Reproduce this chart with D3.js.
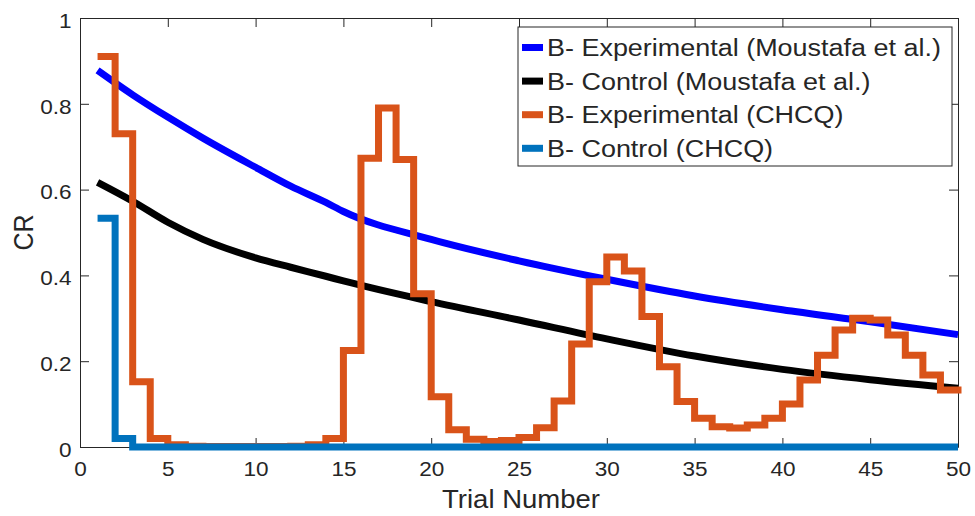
<!DOCTYPE html>
<html>
<head>
<meta charset="utf-8">
<script src="https://cdn.jsdelivr.net/npm/d3@7"></script>
<style>
  body { margin: 0; background: #fff; }
  text { font-family: "Liberation Sans", Arial, sans-serif; fill: #262626; }
</style>
</head>
<body>
<script>
// DATA
var trials = d3.range(1, 51);

// smooth curves read at a few trials
var moustafaX = [1, 3, 5, 7, 10, 12, 14, 15, 20, 25, 30, 35, 40, 45, 50];
var expMoustafa = [0.878, 0.821, 0.769, 0.720, 0.652, 0.608, 0.570, 0.549, 0.484, 0.434, 0.391, 0.352, 0.320, 0.292, 0.262];
var ctrlMoustafa = [0.617, 0.573, 0.524, 0.484, 0.441, 0.419, 0.398, 0.387, 0.339, 0.296, 0.252, 0.212, 0.181, 0.157, 0.137];

// stairs, one value per trial
var expCHCQ = [0.91, 0.73, 0.152, 0.02, 0.005, 0.002, 0.001, 0.001, 0.001, 0.001,
  0.001, 0.002, 0.005, 0.02, 0.225, 0.673, 0.79, 0.67, 0.357, 0.117,
  0.04, 0.018, 0.013, 0.015, 0.022, 0.045, 0.107, 0.24, 0.385, 0.443,
  0.41, 0.304, 0.187, 0.106, 0.067, 0.047, 0.044, 0.051, 0.067, 0.10,
  0.156, 0.214, 0.273, 0.30, 0.296, 0.261, 0.214, 0.168, 0.133, 0.125];
var ctrlCHCQ = [0.533, 0.02, 0, 0, 0, 0, 0, 0, 0, 0,
  0, 0, 0, 0, 0, 0, 0, 0, 0, 0,
  0, 0, 0, 0, 0, 0, 0, 0, 0, 0,
  0, 0, 0, 0, 0, 0, 0, 0, 0, 0,
  0, 0, 0, 0, 0, 0, 0, 0, 0, 0];

var legendLabels = ["B- Experimental (Moustafa et al.)", "B- Control (Moustafa et al.)",
  "B- Experimental (CHCQ)", "B- Control (CHCQ)"];
var colors = ["#0000ff", "#000000", "#d95319", "#0072bd"];
var xTicks = [0, 5, 10, 15, 20, 25, 30, 35, 40, 45, 50];
var yTicks = [0, 0.2, 0.4, 0.6, 0.8, 1];

var W = 975, H = 516;
var margin = {top: 18, right: 17, bottom: 69, left: 80};
var width = W - margin.left - margin.right;
var height = H - margin.top - margin.bottom;
var sx = 1.1; // the original's text is a bit wider than Liberation Sans

var svg = d3.select("body").append("svg")
  .attr("width", W)
  .attr("height", H);

var g = svg.append("g")
  .attr("transform", "translate(" + margin.left + "," + margin.top + ")");

var x = d3.scaleLinear().domain([0, 50]).range([0, width]);
var y = d3.scaleLinear().domain([0, 1]).range([height, 0]);

// axes, ticks pointing inward like matlab, mirrored on top/right
var tl = 9;
function styleAxis(sel) {
  sel.selectAll("path").attr("stroke", "#262626");
  sel.selectAll("line").attr("stroke", "#262626");
  sel.selectAll("text").attr("font-size", 20.5).attr("fill", "#262626")
    .attr("font-family", "Liberation Sans, Arial, sans-serif");
}

var xAxisG = g.append("g")
  .attr("transform", "translate(0," + height + ")")
  .call(d3.axisBottom(x).tickValues(xTicks).tickFormat(d3.format("d"))
    .tickSizeInner(-tl).tickSizeOuter(0).tickPadding(14))
  .call(styleAxis);
xAxisG.selectAll("text").attr("transform", "scale(" + sx + ",1)");

var yAxisG = g.append("g")
  .call(d3.axisLeft(y).tickValues(yTicks).tickFormat(function(d) { return d === 0 || d === 1 ? d : d.toFixed(1); })
    .tickSizeInner(-tl).tickSizeOuter(0))
  .call(styleAxis);
yAxisG.selectAll("text")
  .attr("x", -8.5 / sx)
  .attr("dy", "0.45em")
  .attr("transform", "scale(" + sx + ",1)");

g.append("g")
  .call(d3.axisTop(x).tickValues(xTicks).tickFormat("").tickSizeInner(-tl).tickSizeOuter(0))
  .call(styleAxis);

g.append("g")
  .attr("transform", "translate(" + width + ",0)")
  .call(d3.axisRight(y).tickValues(yTicks).tickFormat("").tickSizeInner(-tl).tickSizeOuter(0))
  .call(styleAxis);

g.selectAll(".domain").attr("stroke-width", 1);

// lines
var smooth = d3.line()
  .x(function(d) { return x(d[0]); })
  .y(function(d) { return y(d[1]); })
  .curve(d3.curveMonotoneX);

var stairs = d3.line()
  .x(function(d) { return x(d[0]); })
  .y(function(d) { return y(d[1]); })
  .curve(d3.curveStepAfter);

var series = [
  {pts: d3.zip(moustafaX, expMoustafa), gen: smooth},
  {pts: d3.zip(moustafaX, ctrlMoustafa), gen: smooth},
  {pts: d3.zip(trials, expCHCQ), gen: stairs},
  {pts: d3.zip(trials, ctrlCHCQ), gen: stairs}
];

g.selectAll("path.series")
  .data(series)
  .enter().append("path")
  .attr("class", "series")
  .attr("d", function(d) { return d.gen(d.pts); })
  .attr("fill", "none")
  .attr("stroke", function(d, i) { return colors[i]; })
  .attr("stroke-width", 7)
  .attr("stroke-linejoin", "miter")
  .attr("stroke-linecap", "butt");

// axis labels
svg.append("text")
  .attr("transform", "translate(" + (margin.left + width / 2 + 2) + ",508) scale(" + sx + ",1)")
  .attr("text-anchor", "middle")
  .attr("font-size", 25)
  .text("Trial Number");

svg.append("text")
  .attr("transform", "translate(33," + (margin.top + height / 2) + ") scale(" + sx + ",1) rotate(-90)")
  .attr("text-anchor", "middle")
  .attr("font-size", 25)
  .text("CR");

// legend
var leg = svg.append("g").attr("transform", "translate(518,27)");
leg.append("rect")
  .attr("width", 434).attr("height", 139)
  .attr("fill", "#fff").attr("stroke", "#262626").attr("stroke-width", 1);

var rows = leg.selectAll("g.row")
  .data(legendLabels)
  .enter().append("g")
  .attr("class", "row")
  .attr("transform", function(d, i) { return "translate(0," + (20.5 + i * 33.6) + ")"; });

rows.append("line")
  .attr("x1", 4).attr("x2", 25)
  .attr("stroke", function(d, i) { return colors[i]; })
  .attr("stroke-width", 7);

rows.append("text")
  .attr("transform", "translate(29,0) scale(" + sx + ",1)")
  .attr("dy", "0.35em")
  .attr("font-size", 24.5)
  .attr("fill", "#000")
  .text(function(d) { return d; });
</script>
</body>
</html>
